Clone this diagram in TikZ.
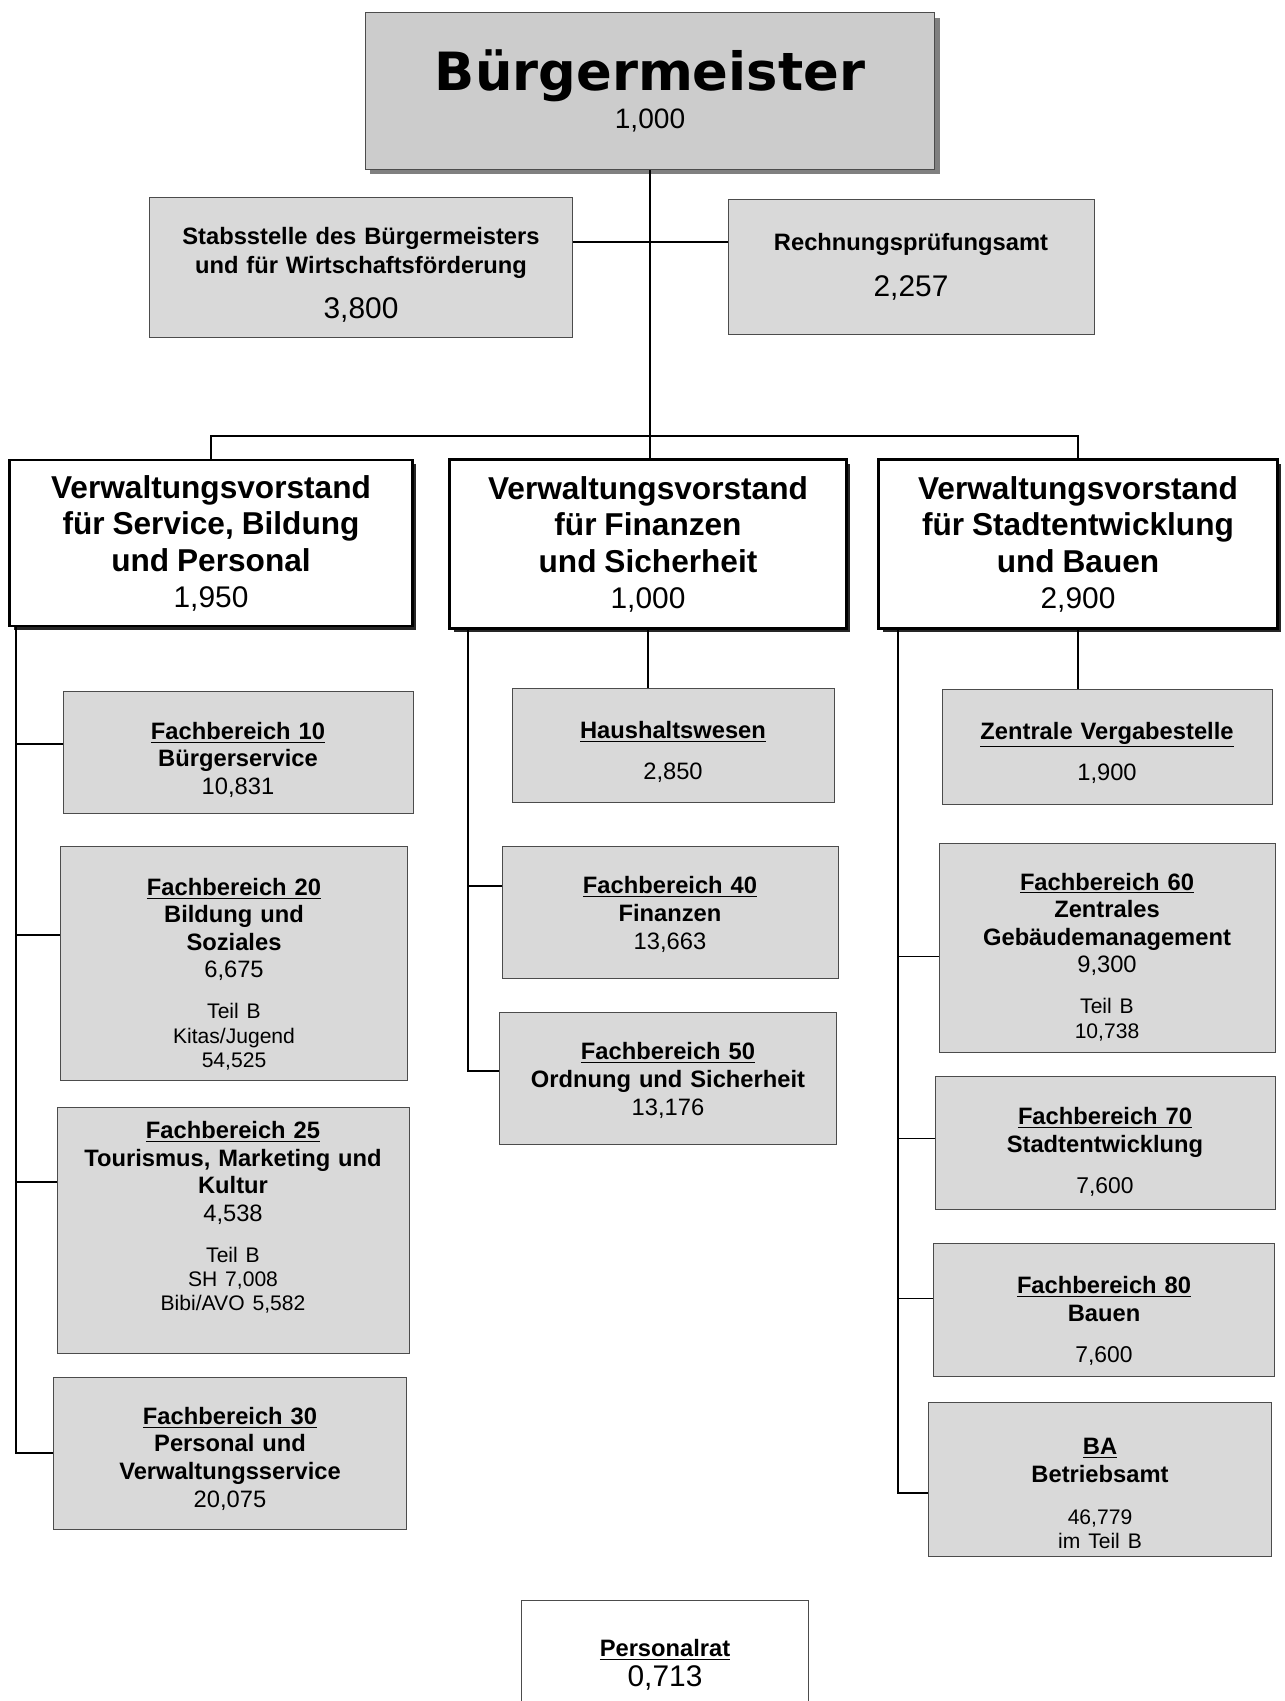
\documentclass[tikz,border=0pt]{standalone}
\usepackage{fontspec}
\setmainfont{Liberation Sans}
\newfontfamily\mayorfont{DejaVu Sans}
\usetikzlibrary{shadows}

\newcommand{\unitfont}{\fontsize{13.5}{15.7}\selectfont}
\newcommand{\smallfont}{\fontsize{12}{13.8}\selectfont}
\newcommand{\vvfont}{\fontsize{18}{21}\selectfont\bfseries}
\newcommand{\bignum}{\fontsize{17}{20}\selectfont}
\newcommand{\pushdown}[1]{\rule{0pt}{#1}}
\newcommand{\pushup}[1]{\rule[-#1]{0pt}{#1}}

\begin{document}
\begin{tikzpicture}[
        x=0.02cm, y=-0.02cm,
        font=\unitfont,
        line/.style={line width=0.9pt},
        unit/.style={draw=black!70, line width=0.5pt, fill=black!15, inner xsep=0pt, inner ysep=2pt, text width=#1, align=center},
        head/.style={draw, line width=1.2pt, fill=white, inner xsep=0pt, text width=#1, align=center,
            drop shadow={shadow xshift=0.08cm, shadow yshift=-0.08cm, fill=black!85, opacity=1}},
        mayor/.style={draw=black!70, line width=0.6pt, fill=black!20, inner xsep=0pt, text width=#1, align=center,
            drop shadow={shadow xshift=0.1cm, shadow yshift=-0.1cm, fill=black!50, opacity=1}}
    ]
    \clip (0,0) rectangle (1285,1701);
    \fill[white] (0,0) rectangle (1285,1701);

    % Top level
    \node[mayor=11.4cm, minimum height=3.14cm] (bm) at (650,91) {{\mayorfont\bfseries\fontsize{30}{32}\selectfont Bürgermeister\par}{\fontsize{16}{21.5}\selectfont 1,000\par}};
    \node[unit=8.46cm, minimum height=2.8cm] (stab) at (361,267) {{\bfseries\fontsize{13.5}{16.6}\selectfont\pushdown{18.6pt}Stabsstelle des Bürgermeisters\\ und für Wirtschaftsförderung\par}{\fontsize{17}{26}\selectfont 3,800\par}};
    \node[unit=7.32cm, minimum height=2.7cm] (rpa) at (911,267) {{\bfseries Rechnungsprüfungsamt\par}{\fontsize{17}{26}\selectfont 2,257\par}};

    % Verwaltungsvorstand
    \node[head=8.06cm, minimum height=3.32cm] (vvl) at (211,543) {{\vvfont Verwaltungsvorstand\\ für Service, Bildung\\ und Personal\par}{\bignum 1,950\par}};
    \node[head=7.94cm, minimum height=3.38cm] (vvm) at (648,544) {{\vvfont Verwaltungsvorstand\\ für Finanzen\\ und Sicherheit\par}{\bignum 1,000\par}};
    \node[head=7.98cm, minimum height=3.38cm] (vvr) at (1078,544) {{\vvfont Verwaltungsvorstand\\ für Stadtentwicklung\\ und Bauen\par}{\bignum 2,900\par}};

    % Left column
    \node[unit=7.0cm, minimum height=2.44cm] (fb10) at (238,752) {{\bfseries\pushdown{18.6pt}\underline{Fachbereich 10}\\ Bürgerservice\par}10,831};
    \node[unit=6.94cm, minimum height=4.68cm] (fb20) at (234,963) {{\bfseries\pushdown{22.3pt}\underline{Fachbereich 20}\\ Bildung und\\ Soziales\par}6,675\par\vspace{9.5pt}{\smallfont Teil B\\ Kitas/Jugend\\ 54,525\par}};
    \node[unit=7.04cm, minimum height=4.92cm] (fb25) at (233,1230) {{\bfseries\underline{Fachbereich 25}\\ Tourismus, Marketing und\\ Kultur\par}4,538\par\vspace{9.5pt}{\smallfont Teil B\\ SH 7,008\\ Bibi/AVO 5,582\pushup{16pt}\par}};
    \node[unit=7.06cm, minimum height=3.04cm] (fb30) at (230,1453) {{\bfseries\pushdown{16.2pt}\underline{Fachbereich 30}\\ Personal und\\ Verwaltungsservice\par}20,075};

    % Middle column
    \node[unit=6.44cm, minimum height=2.28cm] (hh) at (673,745) {{\bfseries\pushdown{17.4pt}\underline{Haushaltswesen}\par}{\fontsize{13.5}{23.4}\selectfont 2,850\par}};
    \node[unit=6.72cm, minimum height=2.64cm] (fb40) at (670,912) {{\bfseries\pushdown{12.5pt}\underline{Fachbereich 40}\\ Finanzen\par}13,663};
    \node[unit=6.74cm, minimum height=2.64cm] (fb50) at (668,1078) {{\bfseries\pushdown{12.5pt}\underline{Fachbereich 50}\\ Ordnung und Sicherheit\par}13,176};

    % Right column
    \node[unit=6.6cm, minimum height=2.3cm] (zv) at (1107,747) {{\bfseries\pushdown{16.2pt}\underline{Zentrale Vergabestelle}\par}{\fontsize{13.5}{23.4}\selectfont 1,900\par}};
    \node[unit=6.72cm, minimum height=4.18cm] (fb60) at (1107,948) {{\bfseries\pushdown{19.8pt}\underline{Fachbereich 60}\\ Zentrales\\ Gebäudemanagement\par}9,300\par\vspace{9.5pt}{\smallfont Teil B\\ 10,738\par}};
    \node[unit=6.8cm, minimum height=2.66cm] (fb70) at (1105,1143) {{\bfseries\pushdown{19.8pt}\underline{Fachbereich 70}\\ Stadtentwicklung\par}{\fontsize{13}{23.4}\selectfont 7,600\par}};
    \node[unit=6.82cm, minimum height=2.66cm] (fb80) at (1104,1310) {{\bfseries\pushdown{22.3pt}\underline{Fachbereich 80}\\ Bauen\par}{\fontsize{13}{23.4}\selectfont 7,600\par}};
    \node[unit=6.86cm, minimum height=3.08cm] (ba) at (1100,1479) {{\bfseries\pushdown{26pt}\underline{BA}\\ Betriebsamt\par}{\fontsize{12}{24}\selectfont 46,779\par}{\smallfont im Teil B\par}};

    % Personalrat
    \node[unit=5.74cm, fill=white, minimum height=2.6cm] (pr) at (665,1665) {{\bfseries\underline{Personalrat}\par}{\fontsize{17}{17}\selectfont 0,713\par}};

    % Lines
    \coordinate (bus) at (648,436);
    \coordinate (lspine) at (16,626); \coordinate (mspine) at (468,629); \coordinate (rspine) at (898,629);
    \draw[line] (bm.south) -- (bm.south |- vvm.north);
    \draw[line] (vvl.north) |- (bus) -| (vvr.north);
    \draw[line] ([yshift=0.5cm]stab.east) -- ([yshift=0.5cm]rpa.west);

    \draw[line] (lspine) |- (fb30.west);
    \draw[line] ([yshift=0.16cm]fb10.west) -| (lspine); \draw[line] ([yshift=0.56cm]fb20.west) -| (lspine); \draw[line] ([yshift=0.96cm]fb25.west) -| (lspine);

    \draw[line] (mspine) |- ([yshift=0.14cm]fb50.west);
    \draw[line] ([yshift=0.52cm]fb40.west) -| (mspine);
    \draw[line] (vvm.south) -- (hh.north -| vvm.south);

    \draw[line] (rspine) |- ([yshift=-0.28cm]ba.west);
    \draw[line] ([yshift=-0.17cm]fb60.west) -| (rspine); \draw[line] ([yshift=0.09cm]fb70.west) -| (rspine); \draw[line] ([yshift=0.23cm]fb80.west) -| (rspine);
    \draw[line] (vvr.south) -- (zv.north -| vvr.south);

\end{tikzpicture}
\end{document}
